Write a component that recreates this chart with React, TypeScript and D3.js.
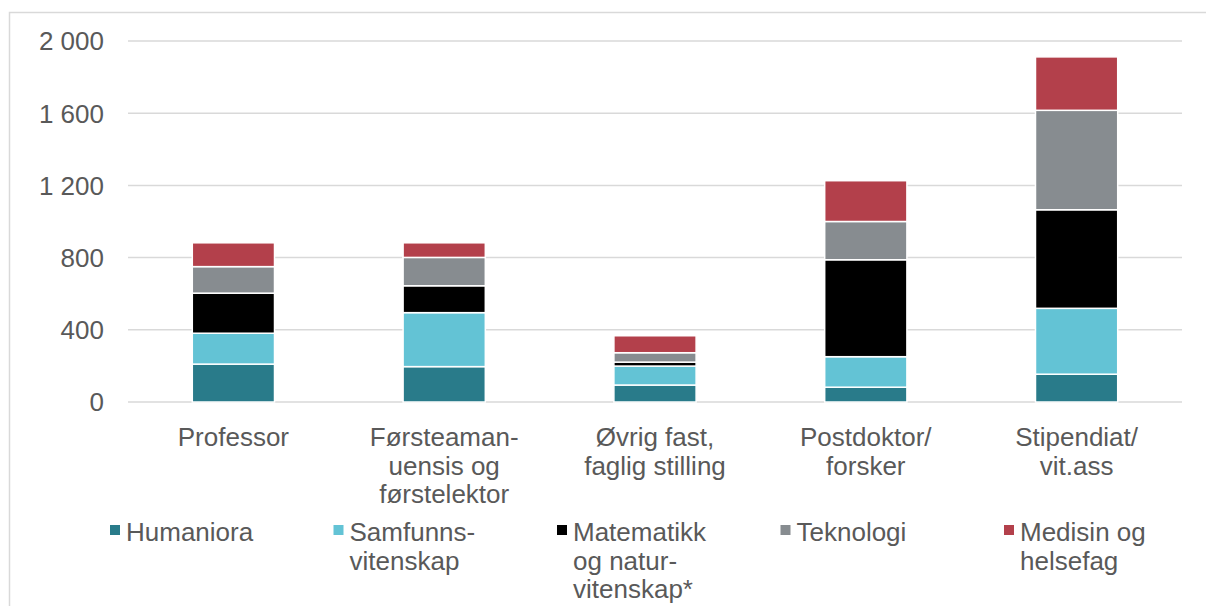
import React from "react";
import * as d3 from "d3";

const categories = ["Professor", "Førsteamanuensis og førstelektor", "Øvrig fast, faglig stilling", "Postdoktor/ forsker", "Stipendiat/ vit.ass"];
const categoryLines = [
  ["Professor"],
  ["Førsteaman-", "uensis og", "førstelektor"],
  ["Øvrig fast,", "faglig stilling"],
  ["Postdoktor/", "forsker"],
  ["Stipendiat/", "vit.ass"],
];
const seriesNames = ["Humaniora", "Samfunnsvitenskap", "Matematikk og naturvitenskap*", "Teknologi", "Medisin og helsefag"];
const legendLines = [
  ["Humaniora"],
  ["Samfunns-", "vitenskap"],
  ["Matematikk", "og natur-", "vitenskap*"],
  ["Teknologi"],
  ["Medisin og", "helsefag"],
];
const humaniora = [210, 196, 94, 82, 154];
const samfunn = [171, 299, 105, 169, 365];
const matnat = [222, 149, 22, 537, 546];
const teknologi = [147, 157, 52, 212, 551];
const medisin = [132, 81, 94, 226, 296];
const colors = ["#297B8A", "#63C3D5", "#000000", "#878C90", "#B3404B"];
const yTicks = [0, 400, 800, 1200, 1600, 2000];

const W = 1206;
const H = 606;
const plotLeft = 128;
const plotRight = 1182;
const plotTop = 41;
const plotBottom = 402;
const font = "'Liberation Sans', Arial, sans-serif";
const textColor = "#595959";

export default function App() {
  const rows = categories.map((c, i) => ({
    cat: c,
    s0: humaniora[i],
    s1: samfunn[i],
    s2: matnat[i],
    s3: teknologi[i],
    s4: medisin[i],
  }));
  const keys = ["s0", "s1", "s2", "s3", "s4"];
  const stacked = d3.stack<any>().keys(keys)(rows);
  const x = d3.scaleBand<string>().domain(categories).range([plotLeft, plotRight]).paddingInner(0.61).paddingOuter(0.305);
  const y = d3.scaleLinear().domain([0, 2000]).range([plotBottom, plotTop]);
  const fmt = (v: number) => d3.format(",")(v).replace(/,/g, " ");

  return (
    <svg width={W} height={H} style={{ position: "absolute", left: 0, top: 0, background: "#fff" }}>
      <rect x={9.5} y={12.5} width={1210} height={620} fill="#fff" stroke="#d9d9d9" strokeWidth={1.5} />
      {yTicks.map((t) => (
        <g key={t}>
          <line x1={plotLeft} x2={plotRight} y1={y(t)} y2={y(t)} stroke="#d9d9d9" strokeWidth={1.5} />
          <text x={104} y={y(t)} dy="0.36em" textAnchor="end" fontFamily={font} fontSize={26} fill={textColor}>
            {fmt(t)}
          </text>
        </g>
      ))}
      {stacked.map((s, si) => (
        <g key={si} fill={colors[si]}>
          {s.map((d, i) => (
            <rect
              key={i}
              x={x(categories[i])}
              width={x.bandwidth()}
              y={y(d[1])}
              height={y(d[0]) - y(d[1])}
              stroke="#fff"
              strokeWidth={1.5}
            />
          ))}
        </g>
      ))}
      {categories.map((c, i) => (
        <text key={c} textAnchor="middle" fontFamily={font} fontSize={26} fill={textColor}>
          {categoryLines[i].map((l, li) => (
            <tspan key={li} x={(x(c) as number) + x.bandwidth() / 2} y={446 + li * 28.5}>
              {l}
            </tspan>
          ))}
        </text>
      ))}
      {seriesNames.map((n, i) => {
        const lx = 110 + i * 223.5;
        return (
          <g key={n}>
            <rect x={lx} y={525} width={10} height={10} fill={colors[i]} />
            <text fontFamily={font} fontSize={26} fill={textColor}>
              {legendLines[i].map((l, li) => (
                <tspan key={li} x={lx + 16} y={541 + li * 28.5}>
                  {l}
                </tspan>
              ))}
            </text>
          </g>
        );
      })}
    </svg>
  );
}
